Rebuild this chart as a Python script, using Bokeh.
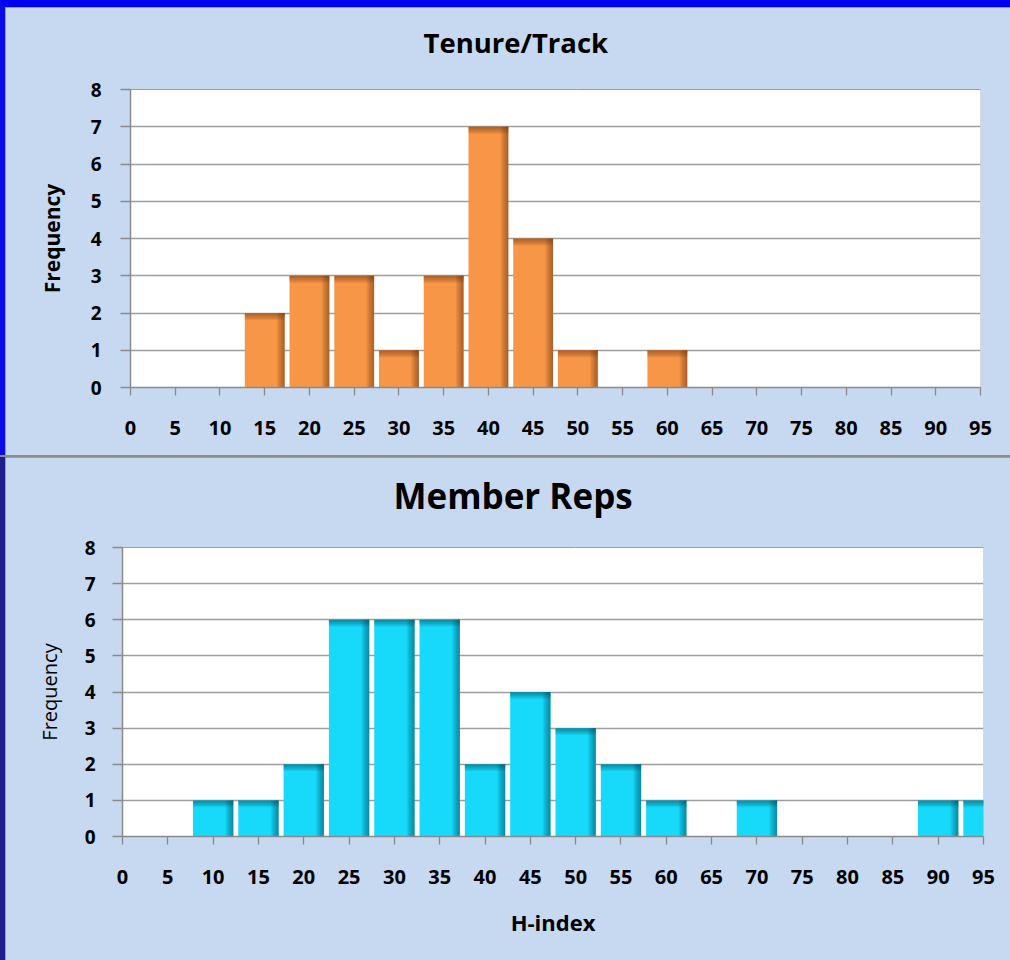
from bokeh.plotting import figure
from bokeh.layouts import column
from bokeh.models import FixedTicker, Range1d, ColumnDataSource, LinearAxis
from bokeh.embed import file_html
from bokeh.resources import INLINE

# ---------------- data ----------------
bins = [0, 5, 10, 15, 20, 25, 30, 35, 40, 45, 50, 55, 60, 65, 70, 75, 80, 85, 90, 95]
tenure_counts = [0, 0, 0, 2, 3, 3, 1, 3, 7, 4, 1, 0, 1, 0, 0, 0, 0, 0, 0, 0]
member_counts = [0, 0, 1, 1, 2, 6, 6, 6, 2, 4, 3, 2, 1, 0, 1, 0, 0, 0, 1, 1]
y_ticks = [0, 1, 2, 3, 4, 5, 6, 7, 8]
titles = ["Tenure/Track", "Member Reps"]
y_label = "Frequency"
x_label = "H-index"

# ---------------- style ----------------
PANEL_BG = "#C6D9F0"
GRID = "#9e9e9e"
AXIS = "#8a8a8a"
FONT = "Open Sans"
BAR_W = 4.45          # bar width in x units (bin step is 5)
SHADE_W = 0.85        # right inner-shadow width in x units
SHADE_H = 0.19        # top inner-shadow height in y units
N_STRIPS = 6


def bar_sources(counts):
    xs = [b for b, c in zip(bins, counts) if c > 0]
    hs = [c for c in counts if c > 0]
    main = ColumnDataSource(dict(
        left=[x - BAR_W / 2 for x in xs], right=[x + BAR_W / 2 for x in xs],
        top=hs, bottom=[0] * len(hs)))
    right_strips, top_strips = [], []
    for k in range(1, N_STRIPS + 1):
        f = k / N_STRIPS
        right_strips.append(ColumnDataSource(dict(
            left=[x + BAR_W / 2 - SHADE_W * f for x in xs],
            right=[x + BAR_W / 2 for x in xs], top=hs, bottom=[0] * len(hs))))
        top_strips.append(ColumnDataSource(dict(
            left=[x - BAR_W / 2 for x in xs], right=[x + BAR_W / 2 for x in xs],
            top=hs, bottom=[h - SHADE_H * f for h in hs])))
    return main, right_strips, top_strips


def make_panel(counts, title, fill, dark, width, height, mb, title_cfg, ylab_cfg, xlab_cfg,
               show_xlabel, frame_styles):
    p = figure(width=width, height=height, x_range=Range1d(0, 95), y_range=Range1d(0, 8),
               output_backend="svg", toolbar_location=None,
               min_border_left=mb[0], min_border_right=mb[1],
               min_border_top=mb[2], min_border_bottom=mb[3],
               styles=frame_styles)
    try:
        p.frame_align = False
    except Exception:
        pass
    p.background_fill_color = "white"
    p.border_fill_color = PANEL_BG
    p.outline_line_color = None

    main, rs, ts = bar_sources(counts)
    p.quad(left="left", right="right", top="top", bottom="bottom", source=main,
           fill_color=fill, line_color=None)
    for s in rs:
        p.quad(left="left", right="right", top="top", bottom="bottom", source=s,
               fill_color=dark, fill_alpha=0.11, line_color=None)
    for s in ts:
        p.quad(left="left", right="right", top="top", bottom="bottom", source=s,
               fill_color=dark, fill_alpha=0.11, line_color=None)

    # axes
    p.xaxis.ticker = FixedTicker(ticks=bins)
    p.yaxis.ticker = FixedTicker(ticks=y_ticks)
    p.xgrid.visible = False
    p.ygrid.grid_line_color = GRID
    p.ygrid.grid_line_width = 1.3
    for ax in (p.xaxis[0], p.yaxis[0]):
        ax.axis_line_color = AXIS
        ax.axis_line_width = 1.5
        ax.major_tick_line_color = AXIS
        ax.major_tick_line_width = 1.3
        ax.minor_tick_line_color = None
        ax.major_tick_in = 0
        ax.major_label_text_font = FONT
        ax.major_label_text_font_style = "bold"
        ax.major_label_text_color = "black"
    p.yaxis.major_tick_out = 10
    p.xaxis.major_tick_out = 8
    p.yaxis.major_label_text_font_size = ylab_cfg["tick_size"]
    p.xaxis.major_label_text_font_size = xlab_cfg["tick_size"]
    p.yaxis.major_label_standoff = ylab_cfg["tick_standoff"]
    p.xaxis.major_label_standoff = xlab_cfg["tick_standoff"]

    p.yaxis.axis_label = y_label
    p.yaxis.axis_label_text_font = FONT
    p.yaxis.axis_label_text_font_size = ylab_cfg["label_size"]
    p.yaxis.axis_label_text_font_style = ylab_cfg["label_style"]
    p.yaxis.axis_label_text_color = "black"
    p.yaxis.axis_label_standoff = ylab_cfg["label_standoff"]

    if show_xlabel:
        p.xaxis.axis_label = x_label
        p.xaxis.axis_label_text_font = FONT
        p.xaxis.axis_label_text_font_size = xlab_cfg["label_size"]
        p.xaxis.axis_label_text_font_style = "bold"
        p.xaxis.axis_label_text_color = "black"
        p.xaxis.axis_label_standoff = xlab_cfg["label_standoff"]

    # invisible spacer (a background-coloured tick) between the frame and the title
    mid = bins[len(bins) // 2]
    spacer = LinearAxis(ticker=FixedTicker(ticks=[mid]), axis_line_color=GRID,
                        major_tick_line_color=PANEL_BG, minor_tick_line_color=None,
                        major_tick_in=0, major_tick_out=title_cfg["gap"],
                        major_label_overrides={mid: ""},
                        major_label_text_font_size="1px",
                        major_label_standoff=0)
    p.add_layout(spacer, "above")

    p.title.text = title
    p.title.text_font = FONT
    p.title.text_font_style = "bold"
    p.title.text_font_size = title_cfg["size"]
    p.title.text_color = "black"
    p.title.align = "left"
    p.title.offset = title_cfg["offset"]
    p.title.standoff = 4
    return p


top = make_panel(
    tenure_counts, titles[0], "#F79646", "#6B3A12", 1005, 448, (125, 35, 82, 75),
    dict(size="27.5px", offset=293, gap=27),
    dict(tick_size="19px", tick_standoff=19, label_size="21px", label_style="bold", label_standoff=22),
    dict(tick_size="20px", tick_standoff=25, label_size="22px", label_standoff=23),
    False,
    {"box-sizing": "content-box", "border-top": "7px solid #0000F0",
     "border-left": "5px solid #0A0AE6"})

bottom = make_panel(
    member_counts, titles[1], "#17DAFB", "#004A5E", 1005, 503, (117, 32, 90, 124),
    dict(size="35px", offset=271, gap=27),
    dict(tick_size="19px", tick_standoff=17, label_size="20px", label_style="normal", label_standoff=19),
    dict(tick_size="20px", tick_standoff=25, label_size="22px", label_standoff=20),
    True,
    {"box-sizing": "content-box", "border-left": "5px solid #1E1E8C"})

layout = column(top, bottom, spacing=2, styles={"background-color": "#8c8c8c"})

open("out.html", "w").write(file_html(layout, INLINE))
